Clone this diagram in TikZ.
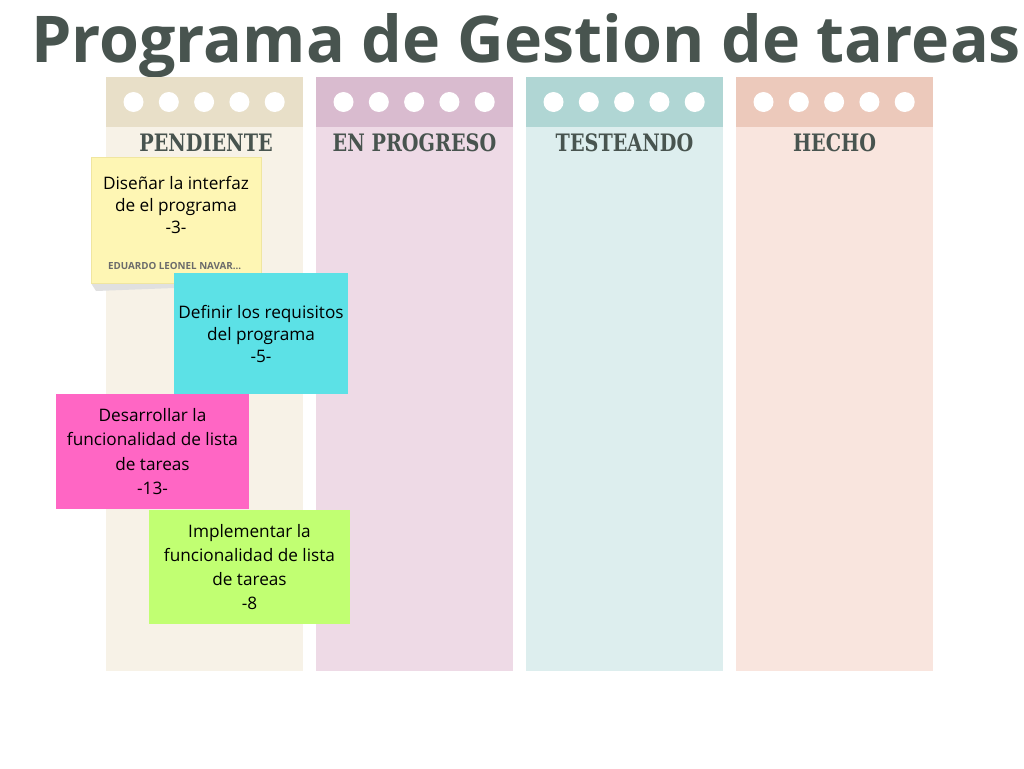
\documentclass[tikz,border=0pt]{standalone}
\usepackage{fontspec}
\setmainfont{Open Sans}
\newfontfamily\slabfont{DejaVu Serif}[FakeStretch=0.8]
\usepackage{xcolor}
\usetikzlibrary{positioning}

\definecolor{titlegray}{HTML}{48544F}
\definecolor{headA}{HTML}{E8DFC8}
\definecolor{bodyA}{HTML}{F7F2E7}
\definecolor{headB}{HTML}{D9BBCF}
\definecolor{bodyB}{HTML}{EEDAE6}
\definecolor{headC}{HTML}{B0D6D4}
\definecolor{bodyC}{HTML}{DDEEEE}
\definecolor{headD}{HTML}{ECC9BB}
\definecolor{bodyD}{HTML}{F9E5DE}
\definecolor{noteyellow}{HTML}{FEF6B4}
\definecolor{noteedge}{HTML}{F0E6A0}
\definecolor{notecyan}{HTML}{5CE1E6}
\definecolor{notepink}{HTML}{FF66C4}
\definecolor{notegreen}{HTML}{C1FF72}

\begin{document}
\begin{tikzpicture}[
	%	style def
    x=1pt, y=-1pt,
    note/.style={rectangle, inner sep=0pt, align=center, text=black,
                 font=\fontsize{17.2}{22}\selectfont},
    coltitle/.style={text=titlegray, font=\slabfont\bfseries\fontsize{24}{24}\selectfont},
    every node/.style={color=black}
    ]
    \useasboundingbox[fill=white] (0,0) rectangle (1024,768);

	% title
    \node[anchor=base, text=titlegray, font=\bfseries\fontsize{64.5}{70}\selectfont] (title) at (526,63) {Programa de Gestion de tareas};

	% columns (body + header band)
    \fill[bodyA] (106,77) rectangle (303,671);
    \fill[bodyB] (316,77) rectangle (513,671);
    \fill[bodyC] (526,77) rectangle (723,671);
    \fill[bodyD] (736,77) rectangle (933,671);
    \fill[headA] (106,77) rectangle (303,127);
    \fill[headB] (316,77) rectangle (513,127);
    \fill[headC] (526,77) rectangle (723,127);
    \fill[headD] (736,77) rectangle (933,127);
    %holes in the header bands
    \foreach \cx in {106,316,526,736}
        \foreach \i in {0,...,4}
            \fill[white] (\cx+27.5+\i*35.3,102) circle (10pt);

    \node[coltitle] (pend) at (206,143) {PENDIENTE};
    \node[coltitle] (prog) at (414.5,143) {EN PROGRESO};
    \node[coltitle] (test) at (624.5,143) {TESTEANDO};
    \node[coltitle] (done) at (834.5,143) {HECHO};

	% sticky notes
    \fill[black!12] (91,283) -- (258,283) -- (200,287) -- (96,291) -- cycle;
    \node[note, draw=noteedge, fill=noteyellow, minimum width=170pt, minimum height=126pt] (n1) at (176,220) {};
    \node[note] (t1) at (176,205) {Diseñar la interfaz\\de el programa\\-3-};
    \node[anchor=west, text=black!58, font=\bfseries\fontsize{9.8}{10}\selectfont] (who) at (104.5,266) {EDUARDO LEONEL NAVAR...};

    \node[note, fill=notecyan, minimum width=174pt, minimum height=121pt] (n2) at (261,333.5) {Definir los requisitos\\del programa\\-5-};
    \node[note, fill=notepink, minimum width=193pt, minimum height=115pt, font=\fontsize{17.2}{24.3}\selectfont] (n3) at (152.5,451.5) {Desarrollar la\\funcionalidad de lista\\de tareas\\-13-};
    \node[note, fill=notegreen, minimum width=201pt, minimum height=114pt, font=\fontsize{17.2}{24.3}\selectfont] (n4) at (249.5,567) {Implementar la\\funcionalidad de lista\\de tareas\\-8};

\end{tikzpicture}
\end{document}
